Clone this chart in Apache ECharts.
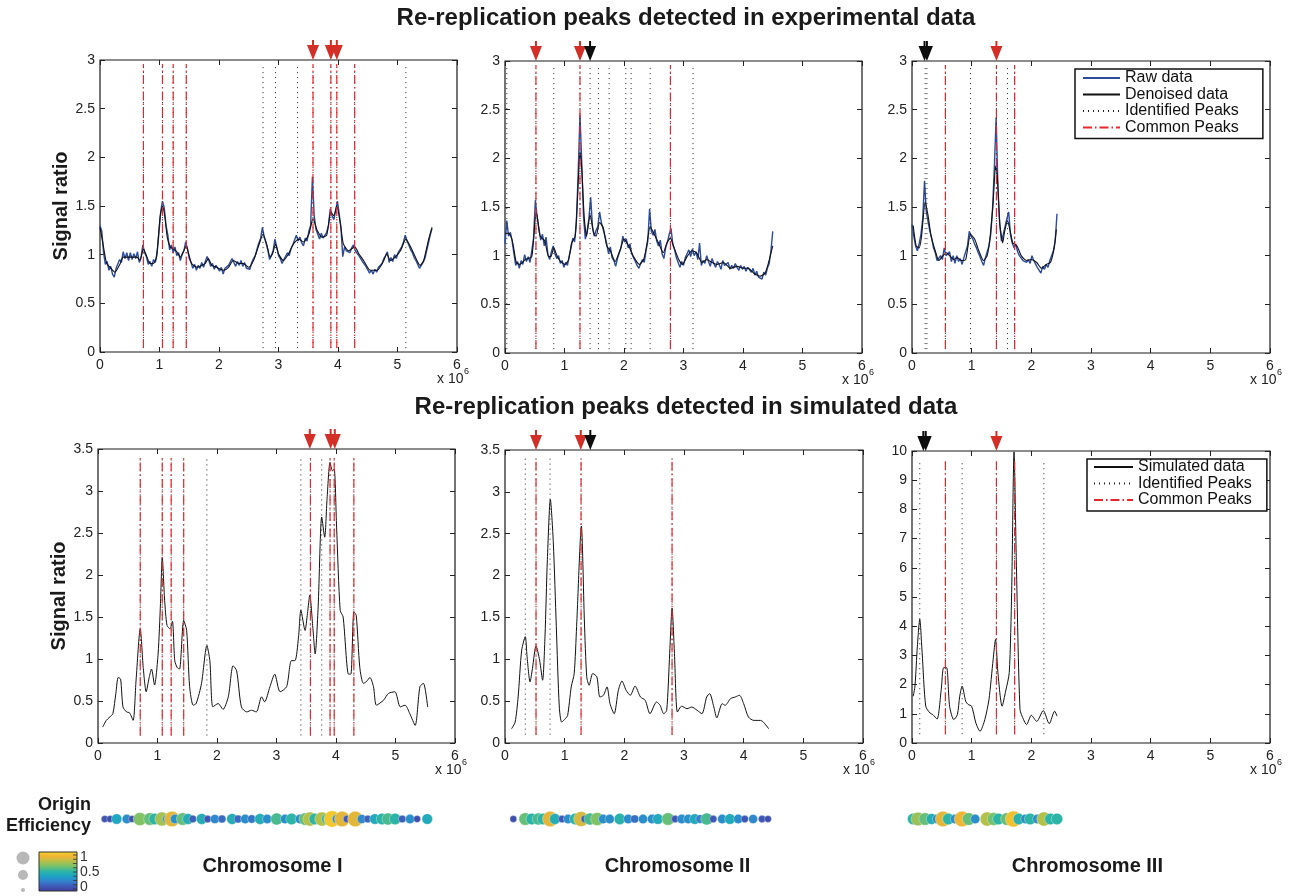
<!DOCTYPE html>
<html>
<head>
<meta charset="utf-8">
<title>Re-replication peaks</title>
<script src="https://cdn.jsdelivr.net/npm/echarts@6.0.0/dist/echarts.min.js"></script>
<style>
  html, body { margin: 0; padding: 0; background: #fff; }
  #chart { width: 1293px; height: 896px; }
</style>
</head>
<body>
<div id="chart"></div>
<script>
// x positions are in units of 10^6 bp
const RAW_STEP = 0.03;

// raw signal ratio (experimental), one value every RAW_STEP
const chr1Raw = [1.30,1.24,1.02,0.90,0.93,0.84,0.88,0.80,0.77,0.86,
  0.88,0.95,0.92,1.03,0.96,1.02,0.94,1.02,0.95,1.01,
  0.96,1.03,0.92,0.97,1.10,1.02,0.98,0.90,0.93,0.88,
  0.95,0.92,1.02,1.22,1.44,1.55,1.48,1.30,1.20,1.05,
  1.10,1.02,1.08,0.99,1.02,0.94,1.00,1.04,1.13,1.06,
  0.96,0.92,0.86,0.90,0.84,0.89,0.86,0.92,0.87,0.93,
  0.98,0.94,0.88,0.91,0.85,0.89,0.86,0.83,0.87,0.80,
  0.86,0.84,0.89,0.90,0.96,0.92,0.88,0.93,0.89,0.94,
  0.88,0.92,0.86,0.88,0.85,0.92,0.96,0.99,1.06,1.12,
  1.17,1.28,1.18,1.12,1.05,0.95,0.99,1.04,1.16,1.08,
  0.99,0.96,0.91,0.95,0.97,1.02,0.99,1.06,1.10,1.15,
  1.20,1.14,1.18,1.12,1.09,1.17,1.14,1.24,1.30,1.80,
  1.40,1.26,1.21,1.16,1.22,1.17,1.20,1.23,1.30,1.47,
  1.40,1.36,1.45,1.55,1.42,1.27,0.98,1.08,1.04,1.06,
  1.02,1.07,1.10,1.04,1.06,0.99,0.98,0.93,0.95,0.88,
  0.86,0.81,0.84,0.80,0.85,0.82,0.87,0.86,0.91,0.96,
  0.99,1.03,0.92,0.97,0.93,1.00,0.96,1.02,1.05,1.08,
  1.13,1.20,1.14,1.10,1.05,1.02,0.97,0.94,0.90,0.86,
  0.88,0.92,0.96,1.04,1.12,1.20,1.27];
const chr2Raw = [1.12,1.36,1.20,1.24,1.15,1.02,0.90,0.94,0.87,0.95,
  0.91,1.01,0.94,0.99,0.93,1.05,1.18,1.57,1.40,1.28,
  1.16,1.22,1.10,1.19,1.02,0.96,1.04,1.10,1.02,0.97,
  1.00,0.92,0.95,0.88,0.93,0.90,1.00,1.08,1.18,1.14,
  1.35,1.85,2.45,1.95,1.40,1.17,1.25,1.38,1.60,1.30,
  1.20,1.26,1.30,1.45,1.34,1.36,1.20,1.12,1.02,1.09,
  0.98,0.95,0.89,0.97,1.03,1.08,1.20,1.14,1.17,1.08,
  1.12,1.02,1.00,0.94,0.90,0.87,0.92,0.96,0.93,1.05,
  1.15,1.48,1.25,1.21,1.27,1.15,1.10,1.16,1.02,0.97,
  1.08,1.14,1.22,1.28,1.12,1.06,0.98,0.93,0.88,0.94,
  0.90,0.98,1.02,1.06,0.99,1.07,1.00,1.04,0.96,1.13,
  0.90,0.95,0.92,1.00,0.94,0.89,0.97,0.92,0.88,0.94,
  0.91,0.86,0.95,0.90,0.88,0.93,0.86,0.90,0.87,0.92,
  0.88,0.85,0.90,0.86,0.89,0.84,0.88,0.86,0.83,0.87,
  0.80,0.84,0.78,0.80,0.76,0.83,0.80,0.87,0.92,1.05,
  1.25];
const chr3Raw = [1.32,1.20,1.10,1.05,1.12,1.22,1.38,1.77,1.45,1.35,
  1.25,1.18,1.08,1.03,0.95,0.93,1.00,0.96,1.08,1.00,
  0.98,1.04,0.94,1.00,0.92,1.00,0.94,0.97,0.91,0.98,
  1.00,1.10,1.25,1.20,1.17,1.12,1.08,1.03,0.99,0.94,
  0.90,0.98,1.04,1.10,1.22,1.48,1.90,2.42,1.70,1.32,
  1.15,1.22,1.30,1.38,1.45,1.22,1.13,1.08,1.12,1.04,
  1.00,0.98,0.95,0.97,0.93,0.96,0.92,1.00,0.95,0.93,
  0.88,0.86,0.82,0.89,0.86,0.91,0.88,0.95,0.93,1.05,
  1.15,1.43];

// denoised signal ratio [position, ratio]
const chr1Den = [[0,1.28],[0.04,1.15],[0.11,0.91],[0.17,0.87],[0.25,0.82],[0.34,0.91],[0.39,0.975],[0.5,0.975],[0.62,0.975],[0.67,0.94],[0.73,1.06],[0.79,0.975],[0.84,0.91],[0.9,0.91],[0.95,0.975],[1.01,1.39],[1.05,1.5],[1.09,1.39],[1.13,1.18],[1.18,1.08],[1.23,1.06],[1.29,1.03],[1.35,0.975],[1.4,1.03],[1.45,1.09],[1.49,1.01],[1.54,0.91],[1.63,0.87],[1.71,0.89],[1.77,0.91],[1.82,0.96],[1.88,0.89],[1.96,0.87],[2.08,0.84],[2.16,0.87],[2.24,0.94],[2.33,0.91],[2.41,0.91],[2.5,0.87],[2.58,0.94],[2.66,1.08],[2.74,1.21],[2.8,1.11],[2.86,0.975],[2.9,1.01],[2.95,1.11],[3.0,1.01],[3.08,0.94],[3.17,1.01],[3.25,1.11],[3.34,1.16],[3.42,1.13],[3.51,1.21],[3.58,1.37],[3.65,1.25],[3.73,1.18],[3.81,1.2],[3.88,1.44],[3.93,1.4],[3.98,1.5],[4.04,1.32],[4.09,1.11],[4.18,1.04],[4.28,1.08],[4.35,1.01],[4.43,0.94],[4.54,0.84],[4.66,0.84],[4.77,0.94],[4.82,1.01],[4.88,0.94],[4.96,0.975],[5.05,1.04],[5.14,1.16],[5.22,1.08],[5.3,0.975],[5.38,0.89],[5.44,0.94],[5.52,1.15],[5.58,1.28]];
const chr2Den = [[0,1.23],[0.06,1.23],[0.11,1.18],[0.14,1.10],[0.19,0.93],[0.25,0.91],[0.34,0.96],[0.45,0.99],[0.52,1.44],[0.54,1.41],[0.59,1.2],[0.67,1.15],[0.73,0.99],[0.77,0.99],[0.82,1.08],[0.88,0.99],[0.95,0.93],[1.01,0.91],[1.07,0.96],[1.12,1.13],[1.18,1.2],[1.22,1.61],[1.26,2.07],[1.29,1.89],[1.33,1.41],[1.37,1.2],[1.43,1.42],[1.49,1.23],[1.53,1.2],[1.59,1.34],[1.65,1.29],[1.71,1.1],[1.77,1.05],[1.85,0.94],[1.93,1.05],[2.0,1.17],[2.08,1.1],[2.16,0.99],[2.26,0.91],[2.33,0.96],[2.38,1.1],[2.44,1.3],[2.5,1.23],[2.58,1.13],[2.66,1.03],[2.72,1.13],[2.78,1.18],[2.83,1.1],[2.92,0.96],[2.98,0.91],[3.06,0.99],[3.14,1.05],[3.22,1.03],[3.31,0.93],[3.39,0.96],[3.48,0.93],[3.56,0.91],[3.67,0.93],[3.79,0.87],[3.9,0.89],[4.01,0.87],[4.09,0.87],[4.18,0.82],[4.29,0.79],[4.37,0.82],[4.43,0.93],[4.5,1.1]];
const chr3Den = [[0.02,1.31],[0.07,1.1],[0.12,1.08],[0.16,1.2],[0.22,1.55],[0.27,1.41],[0.32,1.2],[0.38,1.07],[0.45,0.95],[0.52,1.0],[0.58,1.03],[0.63,1.0],[0.7,0.96],[0.76,0.98],[0.83,0.95],[0.9,0.96],[0.98,1.22],[1.05,1.17],[1.12,1.05],[1.2,0.95],[1.26,1.0],[1.31,1.2],[1.36,1.55],[1.4,1.92],[1.43,1.82],[1.47,1.34],[1.52,1.13],[1.55,1.24],[1.6,1.36],[1.65,1.24],[1.69,1.13],[1.76,1.1],[1.83,1.0],[1.92,0.95],[2.0,0.96],[2.09,0.93],[2.17,0.87],[2.25,0.91],[2.32,0.93],[2.38,1.07],[2.42,1.27]];

// simulated signal ratio [position, ratio]
const chr1Sim = [[0.08,0.19],[0.14,0.27],[0.2,0.31],[0.25,0.35],[0.3,0.59],[0.34,0.78],[0.38,0.76],[0.42,0.43],[0.48,0.37],[0.53,0.36],[0.59,0.27],[0.64,0.75],[0.71,1.36],[0.76,0.9],[0.81,0.61],[0.86,0.78],[0.9,0.88],[0.95,0.69],[1.01,1.06],[1.05,1.66],[1.08,2.21],[1.12,1.7],[1.16,1.4],[1.21,1.36],[1.25,1.45],[1.29,0.98],[1.33,0.9],[1.37,0.88],[1.44,1.46],[1.49,1.34],[1.54,0.67],[1.6,0.45],[1.65,0.47],[1.74,0.71],[1.83,1.16],[1.88,0.98],[1.93,0.43],[2.02,0.47],[2.1,0.4],[2.19,0.55],[2.27,0.92],[2.33,0.86],[2.41,0.43],[2.5,0.37],[2.58,0.39],[2.66,0.37],[2.75,0.55],[2.8,0.49],[2.89,0.67],[2.97,0.82],[3.06,0.61],[3.17,0.67],[3.25,0.98],[3.31,0.98],[3.37,1.26],[3.41,1.58],[3.48,1.34],[3.52,1.54],[3.56,1.76],[3.61,1.38],[3.65,1.06],[3.7,1.62],[3.76,2.69],[3.81,2.45],[3.85,2.91],[3.9,3.34],[3.94,3.24],[3.97,3.26],[4.01,2.57],[4.07,1.58],[4.12,1.5],[4.21,0.82],[4.25,0.82],[4.3,1.56],[4.34,1.52],[4.4,0.9],[4.46,0.71],[4.51,0.73],[4.57,0.78],[4.63,0.67],[4.68,0.45],[4.8,0.51],[4.88,0.59],[4.99,0.61],[5.08,0.43],[5.16,0.45],[5.24,0.35],[5.33,0.21],[5.41,0.67],[5.47,0.71],[5.54,0.43]];
const chr2Sim = [[0.11,0.17],[0.17,0.25],[0.22,0.55],[0.28,1.11],[0.34,1.27],[0.37,1.03],[0.42,0.73],[0.46,0.89],[0.52,1.16],[0.58,0.99],[0.63,0.75],[0.67,1.27],[0.71,2.19],[0.76,2.91],[0.81,2.39],[0.86,1.39],[0.91,0.43],[0.95,0.25],[1.01,0.29],[1.05,0.33],[1.11,0.67],[1.16,0.83],[1.2,1.39],[1.28,2.59],[1.33,1.47],[1.37,0.79],[1.41,0.69],[1.47,0.83],[1.54,0.79],[1.59,0.55],[1.65,0.57],[1.71,0.67],[1.76,0.47],[1.83,0.35],[1.9,0.63],[1.96,0.74],[2.03,0.63],[2.1,0.57],[2.18,0.68],[2.27,0.55],[2.35,0.51],[2.43,0.35],[2.54,0.49],[2.6,0.45],[2.66,0.35],[2.71,0.39],[2.76,1.07],[2.8,1.61],[2.84,1.07],[2.89,0.37],[2.96,0.44],[3.05,0.41],[3.13,0.43],[3.22,0.39],[3.3,0.35],[3.38,0.55],[3.43,0.59],[3.5,0.43],[3.55,0.3],[3.64,0.47],[3.69,0.45],[3.78,0.53],[3.86,0.55],[3.93,0.57],[4.0,0.47],[4.08,0.31],[4.17,0.27],[4.28,0.27],[4.33,0.25],[4.42,0.17]];
const chr3Sim = [[0.02,1.6],[0.05,1.95],[0.09,3.32],[0.13,4.24],[0.17,3.09],[0.23,1.26],[0.3,1.03],[0.35,0.97],[0.42,0.82],[0.49,1.83],[0.53,2.58],[0.58,2.58],[0.63,1.26],[0.7,0.8],[0.76,0.97],[0.8,1.6],[0.84,1.95],[0.9,1.43],[0.94,1.32],[1.0,1.26],[1.07,0.69],[1.14,0.4],[1.22,0.8],[1.29,1.49],[1.36,2.86],[1.4,3.55],[1.44,2.41],[1.51,1.26],[1.57,1.78],[1.63,2.41],[1.67,5.15],[1.71,9.97],[1.75,6.07],[1.81,1.15],[1.87,0.8],[1.92,0.63],[2.0,0.95],[2.09,0.74],[2.2,1.11],[2.3,0.66],[2.39,1.09],[2.43,0.92]];

// peak positions
const expIdent1 = [0.73,1.05,1.23,1.45,2.74,2.95,3.32,3.58,3.88,3.98,4.28,5.14];
const expCommon1 = [0.73,1.05,1.23,1.45,3.58,3.88,3.98,4.28];
const expIdent2 = [0.03,0.52,0.82,1.26,1.43,1.57,1.75,2.03,2.12,2.44,2.78,3.16];
const expCommon2 = [0.52,1.26,2.78];
const expIdent3 = [0.22,0.25,0.56,0.98,1.415,1.6,1.72];
const expCommon3 = [0.56,1.415,1.72];
const simIdent1 = [0.71,1.08,1.23,1.44,1.83,3.41,3.57,3.76,3.90,3.97,4.30];
const simCommon1 = [0.71,1.08,1.23,1.44,3.57,3.90,3.97,4.30];
const simIdent2 = [0.34,0.52,0.755,1.275,2.80];
const simCommon2 = [0.52,1.275,2.80];
const simIdent3 = [0.13,0.56,0.84,1.415,1.72,2.21];
const simCommon3 = [0.56,1.415,1.72];

// arrow markers above the panels
const expRedArrows1 = [3.58,3.88,3.98];
const expBlackArrows1 = [];
const expRedArrows2 = [0.52,1.26];
const expBlackArrows2 = [1.43];
const expRedArrows3 = [1.415];
const expBlackArrows3 = [0.21,0.25];
const simRedArrows1 = [3.56,3.91,3.98];
const simBlackArrows1 = [];
const simRedArrows2 = [0.52,1.27];
const simBlackArrows2 = [1.43];
const simRedArrows3 = [1.415];
const simBlackArrows3 = [0.19,0.23];

// origins [position, efficiency]
const chr1Origins = [[0.08,0.1],[0.17,0.08],[0.28,0.4],[0.45,0.3],[0.54,0.1],[0.67,0.65],[0.84,0.6],[0.92,0.5],[1.04,0.72],[1.13,0.3],[1.21,0.85],[1.26,0.3],[1.39,0.6],[1.48,0.45],[1.56,0.15],[1.71,0.45],[1.81,0.12],[1.93,0.28],[2.05,0.18],[2.22,0.45],[2.32,0.18],[2.44,0.3],[2.55,0.22],[2.69,0.45],[2.81,0.3],[2.97,0.55],[3.11,0.3],[3.22,0.5],[3.36,0.3],[3.45,0.6],[3.53,0.75],[3.61,0.5],[3.73,0.75],[3.82,0.5],[3.9,0.95],[3.98,0.3],[4.07,0.85],[4.15,0.12],[4.29,0.85],[4.4,0.28],[4.5,0.15],[4.62,0.42],[4.74,0.5],[4.84,0.55],[4.96,0.5],[5.08,0.15],[5.21,0.3],[5.33,0.08],[5.5,0.42]];
const chr2Origins = [[0.14,0.08],[0.34,0.6],[0.45,0.5],[0.56,0.55],[0.64,0.5],[0.76,0.85],[0.84,0.45],[0.96,0.12],[1.06,0.3],[1.18,0.5],[1.28,0.82],[1.34,0.12],[1.43,0.55],[1.55,0.65],[1.65,0.3],[1.76,0.3],[1.93,0.48],[2.07,0.3],[2.18,0.2],[2.32,0.3],[2.47,0.3],[2.57,0.42],[2.74,0.6],[2.86,0.12],[2.97,0.3],[3.08,0.3],[3.19,0.42],[3.28,0.25],[3.39,0.55],[3.5,0.12],[3.65,0.3],[3.78,0.42],[3.92,0.3],[4.03,0.12],[4.17,0.28],[4.32,0.12],[4.42,0.08]];
const chr3Origins = [[0.02,0.5],[0.1,0.7],[0.22,0.6],[0.33,0.45],[0.42,0.3],[0.52,0.85],[0.61,0.5],[0.72,0.3],[0.84,0.88],[0.95,0.6],[1.06,0.3],[1.26,0.75],[1.37,0.62],[1.45,0.5],[1.59,0.6],[1.7,0.92],[1.79,0.48],[1.9,0.3],[1.98,0.5],[2.1,0.3],[2.21,0.75],[2.32,0.5],[2.43,0.5]];

const chromNames = ['Chromosome I', 'Chromosome II', 'Chromosome III'];

// ---------------------------------------------------------------
const FONT = '"Liberation Sans", Arial, Helvetica, sans-serif';
// muted parula-like scale, as in the origin rows
const PARULA = ['#3d3d99','#3f58b5','#3480cc','#1ca2c7','#2cb5a6','#74c26d','#b3c14b','#eeb534','#f6d52a'];
const RED = '#e8262b';

const layout = [
  {left: 100, top: 60, width: 357, height: 292},
  {left: 505, top: 61, width: 357, height: 292},
  {left: 912, top: 61, width: 358, height: 292},
  {left: 98, top: 449, width: 357, height: 294},
  {left: 505, top: 450, width: 358, height: 293},
  {left: 912, top: 451, width: 358, height: 292}
];

const panels = [
  {raw: chr1Raw, den: chr1Den, ident: expIdent1, common: expCommon1, red: expRedArrows1, black: expBlackArrows1, yMax: 3, yInt: 0.5, span: [0.04, 2.96]},
  {raw: chr2Raw, den: chr2Den, ident: expIdent2, common: expCommon2, red: expRedArrows2, black: expBlackArrows2, yMax: 3, yInt: 0.5, span: [0.04, 2.96]},
  {raw: chr3Raw, den: chr3Den, ident: expIdent3, common: expCommon3, red: expRedArrows3, black: expBlackArrows3, yMax: 3, yInt: 0.5, span: [0.04, 2.96]},
  {sim: chr1Sim, ident: simIdent1, common: simCommon1, red: simRedArrows1, black: simBlackArrows1, yMax: 3.5, yInt: 0.5, span: [0.09, 3.4]},
  {sim: chr2Sim, ident: simIdent2, common: simCommon2, red: simRedArrows2, black: simBlackArrows2, yMax: 3.5, yInt: 0.5, span: [0.1, 3.4]},
  {sim: chr3Sim, ident: simIdent3, common: simCommon3, red: simRedArrows3, black: simBlackArrows3, yMax: 10, yInt: 1, span: [0.3, 9.7]}
];
const origins = [chr1Origins, chr2Origins, chr3Origins];

const ARROW = 'path://M5,0 L7,0 L7,5 L12,5 L6,20 L0,5 L5,5 Z';

function rawPairs(arr) {
  return arr.map((v, i) => [Math.round(i * RAW_STEP * 100) / 100, v]);
}
function peakSegments(xs, span) {
  const out = [];
  xs.forEach(x => { out.push([x, span[0]], [x, span[1]], [x, '-']); });
  return out;
}

const grid = [], xAxis = [], yAxis = [], series = [], graphic = [];
const tickStyle = {inside: true, length: 5, lineStyle: {color: '#222', width: 1}};
const noLine = {show: false, onZero: false};

layout.forEach((g, i) => {
  const p = panels[i];
  grid.push({left: g.left, top: g.top, width: g.width, height: g.height, show: true,
    borderColor: '#1a1a1a', borderWidth: 1.2, backgroundColor: 'transparent'});
  xAxis.push({gridIndex: i, type: 'value', min: 0, max: 6, interval: 1,
    axisLine: noLine, axisTick: tickStyle, splitLine: {show: false},
    axisLabel: {fontSize: 14, color: '#222', margin: 6, fontFamily: FONT}});
  xAxis.push({gridIndex: i, type: 'value', position: 'top', min: 0, max: 6, interval: 1,
    axisLine: noLine, axisTick: tickStyle, splitLine: {show: false}, axisLabel: {show: false}});
  yAxis.push({gridIndex: i, type: 'value', min: 0, max: p.yMax, interval: p.yInt,
    axisLine: noLine, axisTick: tickStyle, splitLine: {show: false},
    axisLabel: {fontSize: 14, color: '#222', margin: 5, fontFamily: FONT},
    name: i % 3 === 0 ? 'Signal ratio' : '', nameLocation: 'middle', nameGap: i === 0 ? 26 : 25,
    nameTextStyle: {fontSize: 20, fontWeight: 'bold', color: '#1a1a1a', fontFamily: FONT}});
  yAxis.push({gridIndex: i, type: 'value', position: 'right', min: 0, max: p.yMax, interval: p.yInt,
    axisLine: noLine, axisTick: tickStyle, splitLine: {show: false}, axisLabel: {show: false}});

  const ax = {xAxisIndex: 2 * i, yAxisIndex: 2 * i};
  if (p.raw) {
    series.push(Object.assign({name: 'Raw data', type: 'line', data: rawPairs(p.raw), symbol: 'none',
      lineStyle: {color: '#2b4b9f', width: 1.4}, itemStyle: {color: '#2b4b9f'}, silent: true, z: 2}, ax));
    series.push(Object.assign({name: 'Denoised data', type: 'line', data: p.den, symbol: 'none', smooth: 0.2,
      lineStyle: {color: '#111', width: 1.1}, itemStyle: {color: '#111'}, silent: true, z: 3}, ax));
  }
  if (p.sim) {
    series.push(Object.assign({name: 'Simulated data', type: 'line', data: p.sim, symbol: 'none', smooth: 0.25,
      lineStyle: {color: '#111', width: 1}, itemStyle: {color: '#111'}, silent: true, z: 3}, ax));
  }
  series.push(Object.assign({name: 'Identified Peaks', type: 'line', data: peakSegments(p.ident, p.span),
    symbol: 'none', connectNulls: false, lineStyle: {color: '#222', width: 1, type: [1, 4]},
    itemStyle: {color: '#222'}, silent: true, z: 4}, ax));
  series.push(Object.assign({name: 'Common Peaks', type: 'line', data: peakSegments(p.common, p.span),
    symbol: 'none', connectNulls: false, lineStyle: {color: RED, width: 1.2, type: [9, 3, 1.5, 3]},
    itemStyle: {color: RED}, silent: true, z: 5}, ax));
  [[p.red, '#d42f27'], [p.black, '#0d0d0d']].forEach(([xs, col]) => {
    if (!xs.length) return;
    series.push(Object.assign({name: 'arrows', type: 'scatter', data: xs.map(x => [x, p.yMax]),
      symbol: ARROW, symbolSize: [12, 20], symbolOffset: [0, -10], clip: false,
      itemStyle: {color: col, opacity: 1}, silent: true, z: 6}, ax));
  });

  // "x 10^6" multiplier
  graphic.push({type: 'text', x: g.left + g.width - 20, y: g.top + g.height + 20,
    style: {text: 'x 10', font: '14px ' + FONT, fill: '#222'}});
  graphic.push({type: 'text', x: g.left + g.width + 7, y: g.top + g.height + 15,
    style: {text: '6', font: '9px ' + FONT, fill: '#222'}});
});

// origin efficiency rows share the x scale of the panels above
const bubbleSeries = [];
origins.forEach((list, k) => {
  const g = layout[k];
  const gi = 6 + k;
  grid.push({left: g.left, top: 810, width: g.width, height: 18, show: false});
  xAxis.push({gridIndex: gi, type: 'value', min: 0, max: 6, show: false});
  yAxis.push({gridIndex: gi, type: 'value', min: 0, max: 1, show: false});
  bubbleSeries.push(series.length);
  series.push({name: 'Origins ' + (k + 1), type: 'scatter', xAxisIndex: 12 + k, yAxisIndex: 12 + k,
    data: list.map(o => [o[0], 0.5, o[1]]), symbol: 'circle',
    itemStyle: {borderColor: 'rgba(255,255,255,0.55)', borderWidth: 0.6, opacity: 1},
    silent: true, clip: false});
  graphic.push({type: 'text', x: g.left + g.width * (k === 2 ? 0.49 : 0.483), y: 856,
    style: {text: chromNames[k], font: 'bold 20px ' + FONT, fill: '#1a1a1a', align: 'center'}});
});

// section titles
graphic.push({type: 'text', x: 686, y: 6,
  style: {text: 'Re-replication peaks detected in experimental data', font: 'bold 24px ' + FONT, fill: '#1a1a1a', align: 'center'}});
graphic.push({type: 'text', x: 686, y: 395,
  style: {text: 'Re-replication peaks detected in simulated data', font: 'bold 24px ' + FONT, fill: '#1a1a1a', align: 'center'}});

// origin efficiency key
graphic.push({type: 'text', x: 91, y: 796, style: {text: 'Origin', font: 'bold 18px ' + FONT, fill: '#1a1a1a', align: 'right'}});
graphic.push({type: 'text', x: 91, y: 817, style: {text: 'Efficiency', font: 'bold 18px ' + FONT, fill: '#1a1a1a', align: 'right'}});
graphic.push({type: 'rect', shape: {x: 39, y: 852, width: 38, height: 39},
  style: {fill: new echarts.graphic.LinearGradient(0, 1, 0, 0,
    PARULA.map((c, j) => ({offset: j / (PARULA.length - 1), color: c}))), stroke: '#333', lineWidth: 1}});
for (let t = 0; t <= 8; t++) {
  const y = 855 + 34 * t / 8;
  graphic.push({type: 'line', shape: {x1: 73, y1: y, x2: 77, y2: y}, style: {stroke: '#333', lineWidth: 0.8}});
}
[['1', 858], ['0.5', 873], ['0', 888]].forEach(([s, y]) => {
  graphic.push({type: 'text', x: 80, y: y - 8, style: {text: s, font: '14px ' + FONT, fill: '#333'}});
});
[[858, 6.5], [875, 5], [890, 2]].forEach(([y, r]) => {
  graphic.push({type: 'circle', shape: {cx: 23, cy: y, r: r}, style: {fill: '#b8b8b8'}});
});

const legendBase = {
  orient: 'vertical', itemHeight: 14, itemGap: 0.5, selectedMode: false,
  borderColor: '#111', borderWidth: 1.5, borderRadius: 0, backgroundColor: '#fff',
  textStyle: {fontSize: 16, color: '#111', fontFamily: FONT, lineHeight: 16},
  itemStyle: {opacity: 0}, lineStyle: {width: 2}
};

const option = {
  animation: false,
  backgroundColor: '#fff',
  grid, xAxis, yAxis, series, graphic,
  legend: [
    Object.assign({}, legendBase, {data: ['Raw data', 'Denoised data', 'Identified Peaks', 'Common Peaks'],
      left: 1075, top: 69, itemWidth: 37, padding: [1, 24, 3, 7]}),
    Object.assign({}, legendBase, {data: ['Simulated data', 'Identified Peaks', 'Common Peaks'],
      left: 1087, top: 459, itemWidth: 39, padding: [0, 15, 3, 6]})
  ],
  visualMap: {
    type: 'continuous', show: false, min: 0, max: 1, dimension: 2,
    seriesIndex: bubbleSeries,
    inRange: {color: PARULA, symbolSize: [6, 17]}
  }
};

const chart = echarts.init(document.getElementById('chart'), null, {renderer: 'canvas'});
chart.setOption(option);
window.addEventListener('resize', () => chart.resize());
</script>
</body>
</html>
